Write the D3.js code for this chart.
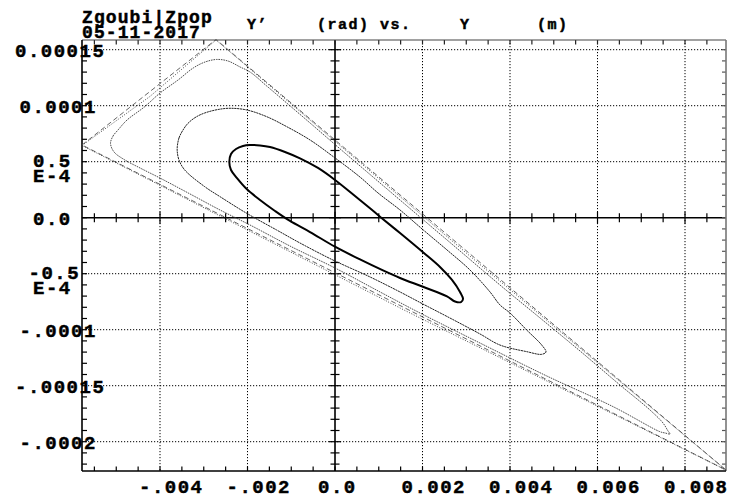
<!DOCTYPE html>
<html>
<head>
<meta charset="utf-8">
<script src="https://cdn.jsdelivr.net/npm/d3@7"></script>
<style>
  html, body { margin: 0; padding: 0; background: #fff; }
  svg { display: block; }
  text { font-family: "Liberation Mono", "DejaVu Sans Mono", monospace; font-weight: bold; fill: #000; stroke: #000; stroke-width: 0.45px; }
</style>
</head>
<body>
<svg id="chart" width="740" height="498"></svg>
<script>
// Phase-space tracking, Y' (rad) vs Y (m). Each orbit: [Y, Y'] pairs.
const orbitInner = [
  [-2.416e-3, 0.497e-4], [-2.377e-3, 0.569e-4], [-2.263e-3, 0.613e-4], [-2.103e-3, 0.640e-4],
  [-1.943e-3, 0.649e-4], [-1.714e-3, 0.645e-4], [-1.486e-3, 0.631e-4], [-1.143e-3, 0.587e-4],
  [-0.800e-3, 0.530e-4], [-0.389e-3, 0.444e-4], [0.000e-3, 0.337e-4], [0.457e-3, 0.194e-4],
  [0.800e-3, 0.084e-4], [1.029e-3, 0.009e-4], [1.486e-3, -0.137e-4], [2.019e-3, -0.311e-4],
  [2.400e-3, -0.440e-4], [2.674e-3, -0.556e-4], [2.857e-3, -0.663e-4], [2.926e-3, -0.726e-4],
  [2.880e-3, -0.753e-4], [2.743e-3, -0.748e-4], [2.560e-3, -0.702e-4], [2.011e-3, -0.617e-4],
  [1.486e-3, -0.538e-4], [1.097e-3, -0.471e-4], [0.571e-3, -0.373e-4], [0.000e-3, -0.259e-4],
  [-0.571e-3, -0.128e-4], [-1.029e-3, -0.029e-4], [-1.371e-3, 0.060e-4], [-1.714e-3, 0.158e-4],
  [-2.018e-3, 0.256e-4], [-2.240e-3, 0.354e-4], [-2.377e-3, 0.426e-4]
];

const orbitMiddle = [
  [-3.605e-3, 0.634e-4], [-3.566e-3, 0.712e-4], [-3.474e-3, 0.783e-4], [-3.360e-3, 0.843e-4],
  [-3.177e-3, 0.899e-4], [-2.978e-3, 0.935e-4], [-2.674e-3, 0.966e-4], [-2.400e-3, 0.977e-4],
  [-2.018e-3, 0.962e-4], [-1.561e-3, 0.902e-4], [-1.104e-3, 0.813e-4], [-0.571e-3, 0.694e-4],
  [-0.039e-3, 0.545e-4], [0.571e-3, 0.363e-4], [0.983e-3, 0.221e-4], [1.486e-3, 0.069e-4],
  [2.019e-3, -0.110e-4], [2.560e-3, -0.288e-4], [3.086e-3, -0.467e-4], [3.543e-3, -0.663e-4],
  [3.771e-3, -0.779e-4], [4.000e-3, -0.851e-4], [4.382e-3, -1.003e-4], [4.725e-3, -1.137e-4],
  [4.823e-3, -1.199e-4], [4.725e-3, -1.220e-4], [4.382e-3, -1.196e-4], [3.771e-3, -1.137e-4],
  [3.314e-3, -1.038e-4], [2.629e-3, -0.896e-4], [2.011e-3, -0.771e-4], [1.486e-3, -0.663e-4],
  [0.800e-3, -0.529e-4], [-0.046e-3, -0.378e-4], [-0.800e-3, -0.226e-4], [-1.333e-3, -0.110e-4],
  [-2.018e-3, 0.039e-4], [-2.629e-3, 0.188e-4], [-2.978e-3, 0.277e-4], [-3.435e-3, 0.426e-4],
  [-3.566e-3, 0.515e-4], [-3.605e-3, 0.587e-4]
];

const orbitOuter = [
  [-5.131e-3, 0.663e-4], [-5.074e-3, 0.729e-4], [-4.960e-3, 0.783e-4], [-4.754e-3, 0.872e-4],
  [-4.350e-3, 0.991e-4], [-4.000e-3, 1.113e-4], [-3.589e-3, 1.229e-4], [-3.239e-3, 1.337e-4],
  [-2.971e-3, 1.390e-4], [-2.704e-3, 1.413e-4], [-2.446e-3, 1.399e-4], [-2.171e-3, 1.346e-4],
  [-1.943e-3, 1.301e-4], [-1.561e-3, 1.176e-4], [-1.104e-3, 1.024e-4], [-0.571e-3, 0.846e-4],
  [0.114e-3, 0.615e-4], [1.029e-3, 0.310e-4], [1.943e-3, 0.006e-4], [2.857e-3, -0.297e-4],
  [3.771e-3, -0.601e-4], [4.686e-3, -0.895e-4], [5.600e-3, -1.190e-4], [6.514e-3, -1.494e-4],
  [7.200e-3, -1.717e-4], [7.497e-3, -1.833e-4], [7.611e-3, -1.904e-4], [7.657e-3, -1.931e-4],
  [7.543e-3, -1.922e-4], [7.429e-3, -1.911e-4], [6.361e-3, -1.688e-4], [4.839e-3, -1.413e-4],
  [3.314e-3, -1.119e-4], [1.943e-3, -0.851e-4], [1.029e-3, -0.663e-4], [0.000e-3, -0.449e-4],
  [-1.029e-3, -0.253e-4], [-1.943e-3, -0.065e-4], [-2.629e-3, 0.069e-4], [-3.314e-3, 0.212e-4],
  [-4.000e-3, 0.354e-4], [-4.457e-3, 0.444e-4], [-4.823e-3, 0.520e-4], [-5.051e-3, 0.587e-4]
];

// Separatrix-like boundary, two traces
const separatrixA = [
  [-5.783e-3, 0.649e-4], [-2.720e-3, 1.591e-4], [8.937e-3, -2.253e-4]
];
const separatrixB = [
  [-5.783e-3, 0.645e-4], [-4.229e-3, 1.083e-4], [-2.720e-3, 1.587e-4],
  [3.109e-3, -0.351e-4], [8.937e-3, -2.253e-4], [1.577e-3, -0.824e-4]
];

// Axis ticks and labels
const xMajor = [-0.004, -0.002, 0, 0.002, 0.004, 0.006, 0.008];
const xLabels = ["-.004", "-.002", "0.0", "0.002", "0.004", "0.006", "0.008"];
const yMajor = [-0.0002, -0.00015, -0.0001, -0.00005, 0, 0.00005, 0.0001, 0.00015];
const yLabels = [["-.0002"], ["-.00015"], ["-.0001"], ["-0.5", "E-4"], ["0.0"], ["0.5", "E-4"], ["0.0001"], ["0.00015"]];
const xDomain = [-5.783e-3, 8.937e-3];
const yDomain = [-2.2616e-4, 1.5866e-4];

const svg = d3.select("#chart");
const L = 82, R = 726, T = 40, B = 471;
const x = d3.scaleLinear().domain(xDomain).range([L, R]);
const y = d3.scaleLinear().domain(yDomain).range([B, T]);

const xMinor = d3.range(-0.0055, 0.0089, 0.0005).map(v => +v.toFixed(5));
const yMinor = d3.range(-22e-5, 15.9e-5, 1e-5).map(v => +v.toFixed(6));

// grid
const grid = svg.append("g").attr("stroke", "#000").attr("stroke-width", 1).attr("stroke-dasharray", "1.2,1.8");
xMajor.filter(v => v !== 0).forEach(v => {
  grid.append("line").attr("x1", x(v)).attr("x2", x(v)).attr("y1", T).attr("y2", B);
});
yMajor.filter(v => v !== 0).forEach(v => {
  grid.append("line").attr("x1", L).attr("x2", R).attr("y1", y(v)).attr("y2", y(v));
});

// central axes with crossing ticks
const ax = svg.append("g").attr("stroke", "#000");
ax.append("line").attr("x1", L).attr("x2", R).attr("y1", y(0)).attr("y2", y(0)).attr("stroke-width", 1.6);
ax.append("line").attr("x1", x(0)).attr("x2", x(0)).attr("y1", T).attr("y2", B).attr("stroke-width", 1.6);
xMinor.forEach(v => {
  const big = xMajor.some(m => Math.abs(m - v) < 1e-9);
  const h = big ? 6 : 4.5;
  ax.append("line").attr("x1", x(v)).attr("x2", x(v)).attr("y1", y(0) - h).attr("y2", y(0) + h).attr("stroke-width", 1.2);
});
yMinor.forEach(v => {
  const big = yMajor.some(m => Math.abs(m - v) < 1e-10);
  const h = big ? 6 : 4.5;
  ax.append("line").attr("y1", y(v)).attr("y2", y(v)).attr("x1", x(0) - h).attr("x2", x(0) + h).attr("stroke-width", 1.2);
});

// frame ticks, pointing inward
const ft = svg.append("g").attr("stroke-width", 1.2);
xMinor.forEach(v => {
  ft.append("line").attr("x1", x(v)).attr("x2", x(v)).attr("y1", B).attr("y2", B - 4.5).attr("stroke", "#000");
  ft.append("line").attr("x1", x(v)).attr("x2", x(v)).attr("y1", T).attr("y2", T + 4.5).attr("stroke", "#222");
});
yMinor.forEach(v => {
  ft.append("line").attr("y1", y(v)).attr("y2", y(v)).attr("x1", L).attr("x2", L + 5).attr("stroke", "#000");
  ft.append("line").attr("y1", y(v)).attr("y2", y(v)).attr("x1", R).attr("x2", R - 4).attr("stroke", "#555");
});

// frame
svg.append("line").attr("x1", L).attr("x2", R).attr("y1", T).attr("y2", T).attr("stroke", "#444").attr("stroke-width", 1.2);
svg.append("line").attr("x1", R).attr("x2", R).attr("y1", T).attr("y2", B).attr("stroke", "#777").attr("stroke-width", 1.6);
svg.append("line").attr("x1", L).attr("x2", R).attr("y1", B).attr("y2", B).attr("stroke", "#000").attr("stroke-width", 1.6);
svg.append("line").attr("x1", L).attr("x2", L).attr("y1", T).attr("y2", B).attr("stroke", "#000").attr("stroke-width", 1.6);

// orbits
svg.append("clipPath").attr("id", "plotclip").append("rect")
  .attr("x", L).attr("y", T - 1).attr("width", R - L + 1).attr("height", B - T + 2);
const plot = svg.append("g").attr("clip-path", "url(#plotclip)").attr("fill", "none");
const smooth = d3.line().x(d => x(d[0])).y(d => y(d[1])).curve(d3.curveCatmullRomClosed.alpha(0.5));
const straight = d3.line().x(d => x(d[0])).y(d => y(d[1])).curve(d3.curveLinearClosed);

plot.append("path").attr("d", straight(separatrixA)).attr("stroke", "#555").attr("stroke-width", 0.9).attr("stroke-dasharray", "5,3");
plot.append("path").attr("d", straight(separatrixB)).attr("stroke", "#333").attr("stroke-width", 0.9).attr("stroke-dasharray", "1,1.6");
plot.append("path").attr("d", smooth(orbitOuter)).attr("stroke", "#3a3a3a").attr("stroke-width", 0.9).attr("stroke-dasharray", "1.6,0.9");
plot.append("path").attr("d", smooth(orbitMiddle)).attr("stroke", "#222").attr("stroke-width", 1).attr("stroke-dasharray", "2.2,0.6");
plot.append("path").attr("d", smooth(orbitInner)).attr("stroke", "#000").attr("stroke-width", 2);

// tick labels
const lab = svg.append("g").attr("font-size", "19px").attr("letter-spacing", "1.5px");
yMajor.forEach((v, i) => {
  const lines = yLabels[i];
  if (lines.length === 1) {
    lab.append("text").attr("x", 46.5 - 4.5 * lines[0].length).attr("y", y(v) + 7).text(lines[0]);
  } else {
    lab.append("text").attr("x", 46.5 - 4.5 * lines[0].length).attr("y", y(v) + 5.5).text(lines[0]);
    lab.append("text").attr("x", 46.5 - 4.5 * lines[1].length).attr("y", y(v) + 20.5).text(lines[1]);
  }
});
xMajor.forEach((v, i) => {
  lab.append("text").attr("x", x(v) - 11 - 2 * xLabels[i].length).attr("y", 493).text(xLabels[i]);
});

// header
const hd = svg.append("g").attr("font-size", "18px").attr("letter-spacing", "1.1px");
hd.append("text").attr("x", 82).attr("y", 23).text("Zgoubi|Zpop");
hd.append("text").attr("x", 82).attr("y", 38).text("05-11-2017");
const ttl = svg.append("g").attr("font-size", "15px").attr("letter-spacing", "1.5px");
ttl.append("text").attr("x", 247).attr("y", 29).text("Y\u2019");
ttl.append("text").attr("x", 317).attr("y", 29).text("(rad) vs.");
ttl.append("text").attr("x", 460).attr("y", 29).text("Y");
ttl.append("text").attr("x", 537).attr("y", 29).text("(m)");
</script>
</body>
</html>
